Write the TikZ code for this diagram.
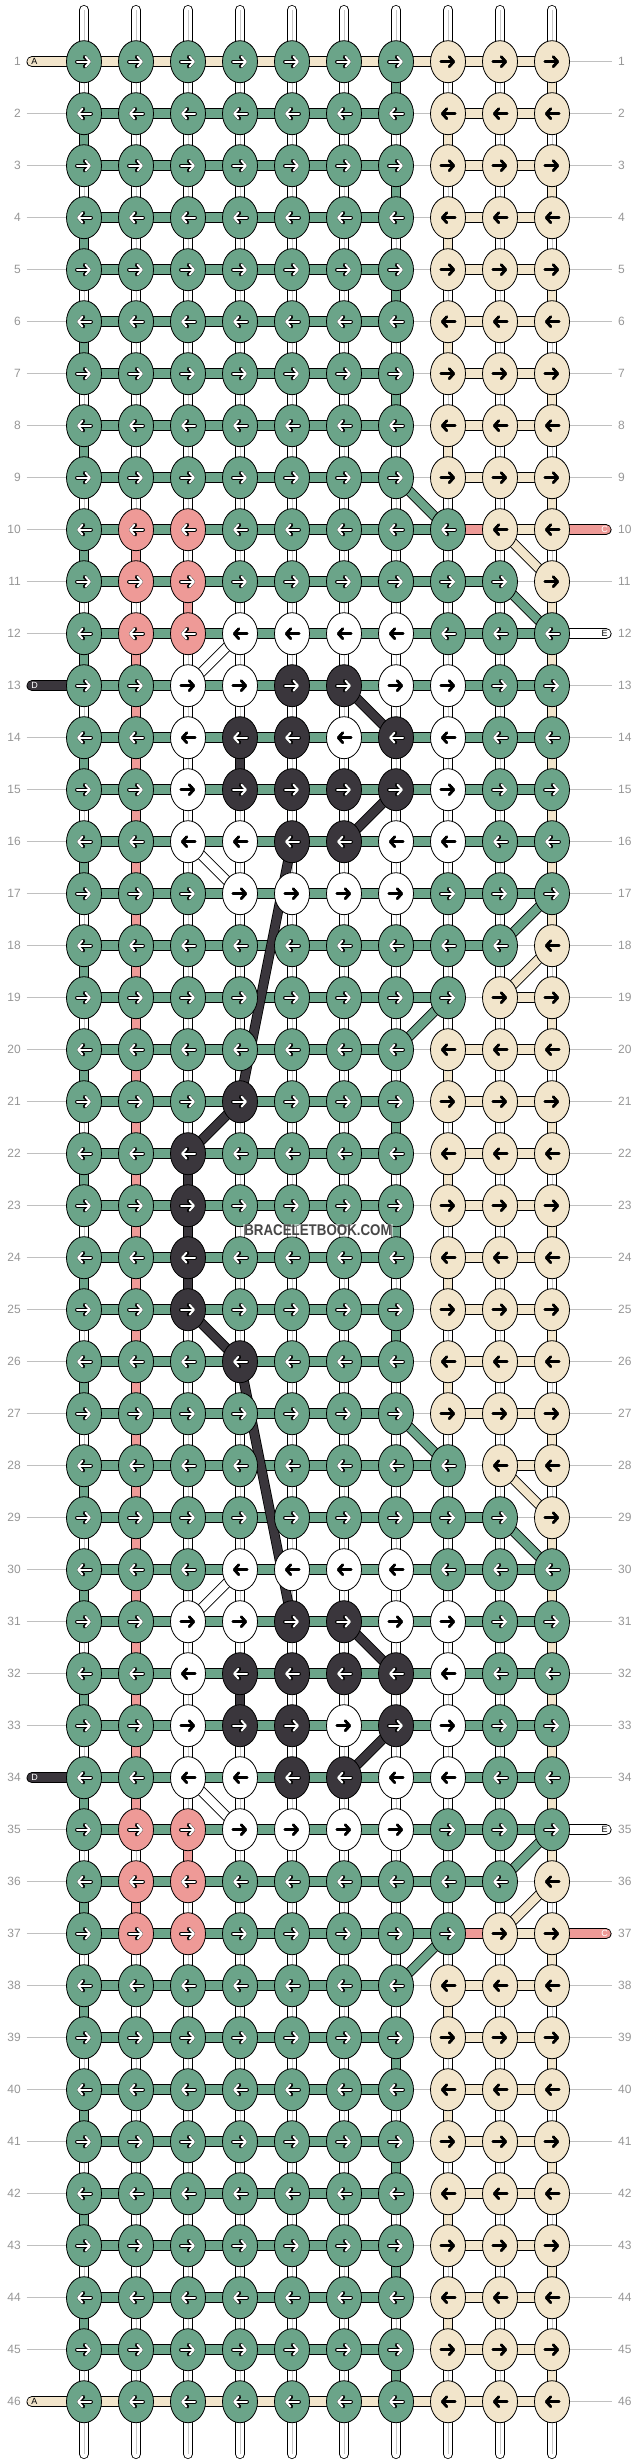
\documentclass[tikz,border=0pt]{standalone}
\usepackage{fontspec}
\setmainfont{Liberation Sans}
\usetikzlibrary{shapes.geometric,arrows.meta}

\definecolor{kG}{RGB}{107,164,137}
\definecolor{kB}{RGB}{242,229,203}
\definecolor{kP}{RGB}{238,154,151}
\definecolor{kD}{RGB}{58,54,60}
\definecolor{kW}{RGB}{255,255,255}
\definecolor{numgray}{RGB}{150,150,150}
\definecolor{linegray}{RGB}{192,192,192}

\tikzset{
  knot/.style={ellipse, draw=black, line width=0.8pt, minimum width=35pt, minimum height=42pt, inner sep=0pt},
  hthread/.style={draw=black, line width=0.8pt, double distance=9.4pt},
  vthread/.style={draw=black, line width=0.8pt, double distance=8.4pt},
  dthread/.style={draw=black, line width=0.8pt, double distance=8.4pt},
  stub/.style={draw=black, line width=0.8pt, double distance=9.4pt, line cap=round},
  tG/.style={double=kG}, tB/.style={double=kB}, tP/.style={double=kP},
  tD/.style={double=kD}, tW/.style={double=white}, tw/.style={double=white},
  tn/.style={draw=none},
  midw/.style={draw=black!22, line width=0.7pt},
  midG/.style={draw=none}, midB/.style={draw=none}, midP/.style={draw=none}, midD/.style={draw=none},
  rowline/.style={draw=linegray, line width=0.8pt},
  num/.style={text=numgray, font=\fontsize{12}{12}\selectfont, inner sep=0pt},
  stubtext/.style={font=\fontsize{9}{9}\selectfont, inner sep=0pt},
  knotarrow/.style={line cap=round, -{Straight Barb[length=4.5pt,width=10pt,round]}},
  aoG/.style={black, line width=3.8pt}, aoP/.style={black, line width=3.8pt}, aoD/.style={black, line width=3.8pt},
  aoB/.style={black, line width=2.6pt}, aoW/.style={black, line width=2.6pt},
  aiG/.style={white, line width=2pt}, aiP/.style={white, line width=2pt}, aiD/.style={white, line width=2pt},
  aiB/.style={black, line width=2.6pt}, aiW/.style={black, line width=2.6pt}
}

\def\rowdata{%
1/{G,G,G,G,G,G,G,B,B,B}/{B,B,B,B,B,B,B,B,B}/{w,w,w,w,w,w,G,w,w,B},
2/{G,G,G,G,G,G,G,B,B,B}/{G,G,G,G,G,G,n,B,B}/{G,w,w,w,w,w,w,B,w,w},
3/{G,G,G,G,G,G,G,B,B,B}/{G,G,G,G,G,G,n,B,B}/{w,w,w,w,w,w,G,w,w,B},
4/{G,G,G,G,G,G,G,B,B,B}/{G,G,G,G,G,G,n,B,B}/{G,w,w,w,w,w,w,B,w,w},
5/{G,G,G,G,G,G,G,B,B,B}/{G,G,G,G,G,G,n,B,B}/{w,w,w,w,w,w,G,w,w,B},
6/{G,G,G,G,G,G,G,B,B,B}/{G,G,G,G,G,G,n,B,B}/{G,w,w,w,w,w,w,B,w,w},
7/{G,G,G,G,G,G,G,B,B,B}/{G,G,G,G,G,G,n,B,B}/{w,w,w,w,w,w,G,w,w,B},
8/{G,G,G,G,G,G,G,B,B,B}/{G,G,G,G,G,G,n,B,B}/{G,w,w,w,w,w,w,B,w,w},
9/{G,G,G,G,G,G,G,B,B,B}/{G,G,G,G,G,G,n,B,B}/{w,w,w,w,w,w,w,w,w,B},
10/{G,P,P,G,G,G,G,G,B,B}/{G,G,G,G,G,G,G,P,B}/{G,P,w,w,w,w,w,w,w,w},
11/{G,P,P,G,G,G,G,G,G,B}/{G,G,G,G,G,G,G,G,n}/{w,w,P,w,w,w,w,w,w,B},
12/{G,P,P,W,W,W,W,G,G,G}/{G,G,G,G,G,G,G,G,G}/{G,P,w,w,w,w,w,w,w,B},
13/{G,G,W,W,D,D,W,W,G,G}/{G,G,G,G,G,G,G,G,G}/{w,P,w,w,w,w,w,w,w,B},
14/{G,G,W,D,D,W,D,W,G,G}/{G,G,G,G,G,G,G,G,G}/{G,P,w,D,w,w,w,w,w,B},
15/{G,G,W,D,D,D,D,W,G,G}/{G,G,G,G,G,G,G,G,G}/{w,P,w,w,w,w,w,w,w,B},
16/{G,G,W,W,D,D,W,W,G,G}/{G,G,G,G,G,G,G,G,G}/{G,P,w,w,w,w,w,w,w,B},
17/{G,G,G,W,W,W,W,G,G,G}/{G,G,G,G,G,G,G,G,G}/{w,P,w,w,w,w,w,w,w,B},
18/{G,G,G,G,G,G,G,G,G,B}/{G,G,G,G,G,G,G,G,n}/{G,P,w,w,w,w,w,w,w,w},
19/{G,G,G,G,G,G,G,G,B,B}/{G,G,G,G,G,G,G,n,B}/{w,P,w,w,w,w,w,w,w,B},
20/{G,G,G,G,G,G,G,B,B,B}/{G,G,G,G,G,G,n,B,B}/{G,P,w,w,w,w,w,B,w,w},
21/{G,G,G,D,G,G,G,B,B,B}/{G,G,G,G,G,G,n,B,B}/{w,P,w,w,w,w,G,w,w,B},
22/{G,G,D,G,G,G,G,B,B,B}/{G,G,G,G,G,G,n,B,B}/{G,P,D,w,w,w,w,B,w,w},
23/{G,G,D,G,G,G,G,B,B,B}/{G,G,G,G,G,G,n,B,B}/{w,P,D,w,w,w,G,w,w,B}}

\def\diagdata{9/7/10/8/G, 10/9/11/10/B, 11/9/12/10/G, 12/4/13/3/W, 13/6/14/7/D, 15/7/16/6/D,
16/3/17/4/W, 16/5/21/4/D, 17/10/18/9/G, 18/10/19/9/B, 19/8/20/7/G, 21/4/22/3/D}

\begin{document}
\begin{tikzpicture}[x=1pt,y=-1pt]
\useasboundingbox (0,0) rectangle (636,2464);
\foreach \R in {1,...,46}{
  \foreach \cl in {1,...,10}{
    \coordinate (p-\R-\cl) at ({32+52*\cl},{9.7+52*\R});
  }
  \coordinate (l-\R) at (26.5,{9.7+52*\R});
  \coordinate (e-\R) at (611.5,{9.7+52*\R});
  \draw[rowline] (l-\R) -- (e-\R);
  \node[num, anchor=east] (nl-\R) at (21,{9.7+52*\R}) {\R};
  \node[num, anchor=west] (nr-\R) at (618,{9.7+52*\R}) {\R};
}
\foreach \cl in {1,...,10}{
  \coordinate (t-\cl) at ({32+52*\cl},10);
  \coordinate (b-\cl) at ({32+52*\cl},2454);
  \draw[vthread, tw, line cap=round] (t-\cl) -- (p-1-\cl);
  \draw[midw] (t-\cl) -- (p-1-\cl);
  \draw[vthread, tw, line cap=round] (p-46-\cl) -- (b-\cl);
  \draw[midw] (p-46-\cl) -- (b-\cl);
}
\foreach \rw/\kn/\hs/\vs in \rowdata{
  \pgfmathtruncatemacro\ra{\rw}
  \pgfmathtruncatemacro\rb{47-\rw}
  \pgfmathtruncatemacro\va{46-\rw}
  \foreach \R in {\ra,\va}{
    \pgfmathtruncatemacro\Rn{\R+1}
    \foreach \vc [count=\cl] in \vs{
      \draw[vthread, t\vc] (p-\R-\cl) -- (p-\Rn-\cl);
      \draw[mid\vc] (p-\R-\cl) -- (p-\Rn-\cl);
    }
  }
  \foreach \R in {\ra,\rb}{
    \foreach \hc [count=\cl] in \hs{
      \pgfmathtruncatemacro\cn{\cl+1}
      \draw[hthread, t\hc] (p-\R-\cl) -- (p-\R-\cn);
    }
  }
}
\foreach \sr/\sk/\sx/\lx/\sc/\txt/\tc in {1/1/32/34.5/B/A/black, 13/1/32/34.5/D/D/white,
    10/10/606/604.5/P/C/white, 12/10/606/604.5/W/E/black}{
  \pgfmathtruncatemacro\sa{\sr}
  \pgfmathtruncatemacro\sm{47-\sr}
  \foreach \R in {\sa,\sm}{
    \coordinate (s-\R) at (\sx,{9.7+52*\R});
    \draw[stub, t\sc] (s-\R) -- (p-\R-\sk);
    \node[stubtext, text=\tc] (st-\R) at (\lx,{9.7+52*\R}) {\txt};
  }
}
\foreach \da/\ca/\db/\cb/\dc in \diagdata{
  \pgfmathtruncatemacro\ma{47-\da}
  \pgfmathtruncatemacro\mb{47-\db}
  \draw[dthread, t\dc] (p-\da-\ca) -- (p-\db-\cb);
  \draw[dthread, t\dc] (p-\ma-\ca) -- (p-\mb-\cb);
}
\foreach \rw/\kn/\hs/\vs in \rowdata{
  \pgfmathtruncatemacro\ra{\rw}
  \pgfmathtruncatemacro\rb{47-\rw}
  \foreach \R in {\ra,\rb}{
    \ifodd\R\relax \def\xa{-7}\def\xb{7}\else \def\xa{7}\def\xb{-7}\fi
    \foreach \kc [count=\cl] in \kn{
      \node[knot, fill=k\kc] (k-\R-\cl) at (p-\R-\cl) {};
      \draw[knotarrow, ao\kc] ([xshift=\xa pt]k-\R-\cl.center) -- ([xshift=\xb pt]k-\R-\cl.center);
      \draw[knotarrow, ai\kc] ([xshift=\xa pt]k-\R-\cl.center) -- ([xshift=\xb pt]k-\R-\cl.center);
    }
  }
}
\node[font=\fontsize{15.5}{16}\selectfont\bfseries, text=black!72, fill=white, fill opacity=0.5,
  text opacity=1, xscale=0.86, inner sep=1pt] (mark) at (318,1230) {BRACELETBOOK.COM};
\end{tikzpicture}
\end{document}
